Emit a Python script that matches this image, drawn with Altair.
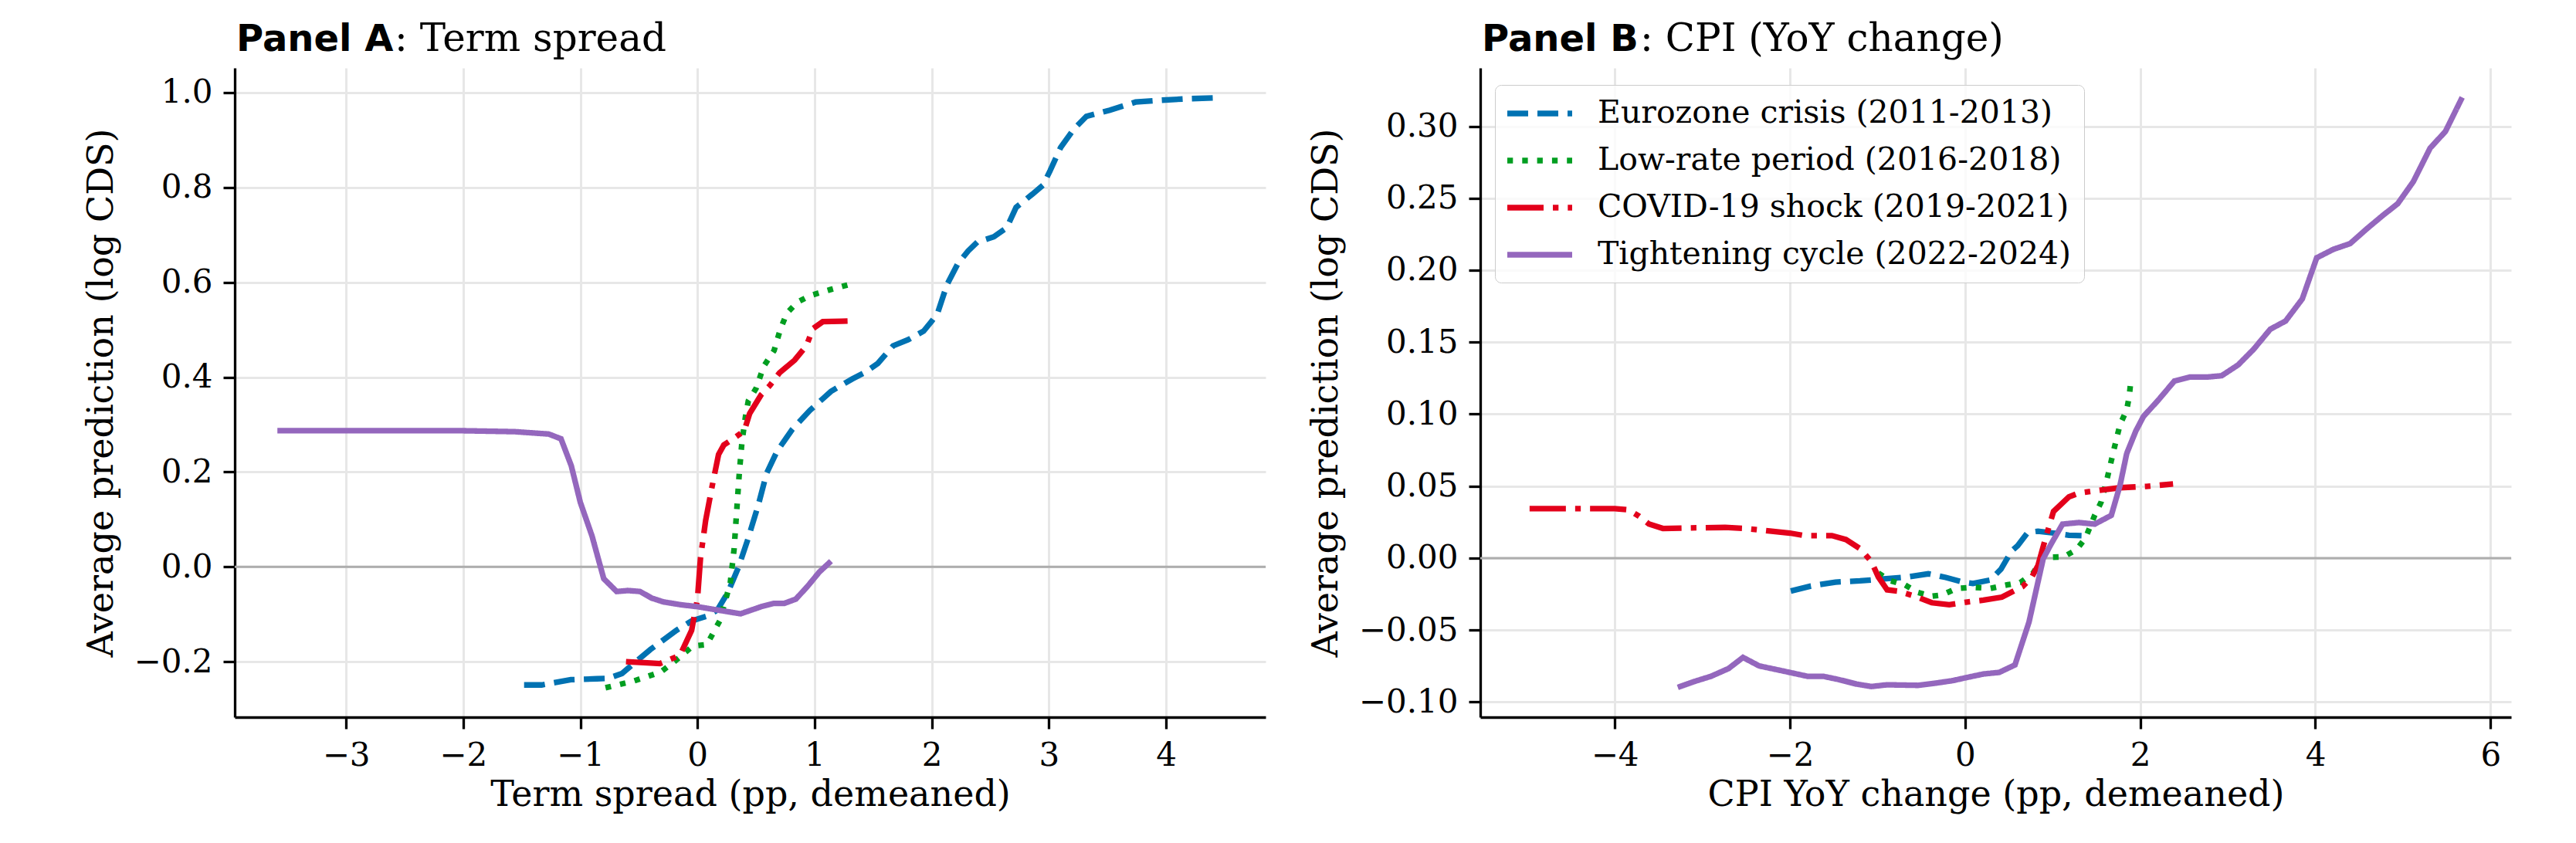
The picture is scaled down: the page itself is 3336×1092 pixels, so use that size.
import altair as alt
import pandas as pd

SERIES = ["Eurozone crisis (2011-2013)", "Low-rate period (2016-2018)",
          "COVID-19 shock (2019-2021)", "Tightening cycle (2022-2024)"]
COLORS = ["#0072B2", "#009E20", "#E3001B", "#9467BD"]
DASHES = [[27, 12], [7.3, 12], [47, 12, 7.3, 12], [1, 0]]

# ---------------- Panel A: term spread ----------------
A_blue_x = [-1.48, -1.33, -1.08, -0.86, -0.76, -0.645, -0.54, -0.40, -0.18, -0.05, 0.08, 0.17, 0.26, 0.35,
            0.43, 0.52, 0.59, 0.68, 0.81, 0.96, 1.14, 1.32, 1.43, 1.54, 1.67, 1.80, 1.93, 2.00, 2.05, 2.13,
            2.22, 2.31, 2.39, 2.53, 2.64, 2.72, 2.86, 2.95, 3.01, 3.10, 3.21, 3.32, 3.52, 3.74, 3.96, 4.18, 4.45]
A_blue_y = [-0.249, -0.249, -0.238, -0.236, -0.235, -0.225, -0.203, -0.174, -0.134, -0.114, -0.104, -0.091,
            -0.054, -0.001, 0.058, 0.131, 0.197, 0.244, 0.290, 0.330, 0.370, 0.396, 0.410, 0.429, 0.466, 0.479,
            0.497, 0.518, 0.535, 0.595, 0.638, 0.666, 0.685, 0.696, 0.715, 0.758, 0.786, 0.805, 0.835, 0.884,
            0.922, 0.950, 0.963, 0.980, 0.984, 0.987, 0.989]

A_green_x = [-0.785, -0.546, -0.315, -0.213, -0.04, 0.08, 0.19, 0.28, 0.313, 0.335, 0.357, 0.38, 0.41, 0.434,
             0.50, 0.566, 0.654, 0.709, 0.764, 0.852, 0.963, 1.14, 1.32]
A_green_y = [-0.255, -0.241, -0.222, -0.203, -0.167, -0.164, -0.114, -0.034, 0.038, 0.118, 0.197, 0.264, 0.317,
             0.350, 0.376, 0.423, 0.456, 0.502, 0.535, 0.558, 0.572, 0.585, 0.597]

A_red_x = [-0.61, -0.40, -0.32, -0.15, -0.05, 0.0, 0.026, 0.07, 0.126, 0.18, 0.225, 0.30, 0.40, 0.445, 0.544,
           0.62, 0.70, 0.83, 0.93, 0.985, 1.07, 1.23, 1.36]
A_red_y = [-0.200, -0.203, -0.204, -0.187, -0.134, -0.068, 0.019, 0.098, 0.171, 0.237, 0.257, 0.269, 0.287,
           0.323, 0.363, 0.383, 0.409, 0.436, 0.466, 0.502, 0.517, 0.518, 0.519]

A_purple_x = [-3.586, -2.0, -1.56, -1.27, -1.165, -1.077, -1.0, -0.90, -0.80, -0.69, -0.594, -0.49, -0.39, -0.29,
              -0.14, 0.0, 0.17, 0.368, 0.544, 0.654, 0.742, 0.84, 0.94, 1.04, 1.14]
A_purple_y = [0.287, 0.287, 0.285, 0.280, 0.270, 0.213, 0.136, 0.065, -0.025, -0.052, -0.050, -0.052, -0.066,
              -0.074, -0.080, -0.084, -0.091, -0.099, -0.084, -0.077, -0.077, -0.068, -0.041, -0.011, 0.012]

# ---------------- Panel B: CPI YoY change ----------------
B_blue_x = [-1.99, -1.76, -1.48, -1.20, -0.93, -0.65, -0.42, -0.22, -0.02, 0.09, 0.29, 0.41, 0.53, 0.60, 0.716,
            0.833, 1.01, 1.186, 1.33]
B_blue_y = [-0.0229, -0.0194, -0.0167, -0.0158, -0.0145, -0.0131, -0.0109, -0.0134, -0.0167, -0.0176, -0.0152,
            -0.0077, 0.0048, 0.0086, 0.0178, 0.0187, 0.0174, 0.0159, 0.0156]

B_green_x = [-0.99, -0.85, -0.69, -0.54, -0.38, -0.26, -0.10, 0.09, 0.29, 0.49, 0.63, 0.775, 0.892, 1.127, 1.274,
             1.377, 1.48, 1.553, 1.626, 1.70, 1.77, 1.846, 1.876, 1.89]
B_green_y = [-0.0104, -0.0158, -0.0185, -0.0238, -0.0265, -0.0256, -0.0211, -0.0203, -0.0210, -0.0185, -0.0170,
             -0.0106, 0.0004, 0.0009, 0.0059, 0.0141, 0.0297, 0.0388, 0.0562, 0.0755, 0.0929, 0.1029, 0.1130,
             0.1216]

B_red_x = [-4.972, -4.0, -3.84, -3.72, -3.61, -3.45, -3.13, -2.74, -2.50, -2.23, -2.0, -1.83, -1.52, -1.36, -1.20,
           -1.07, -0.99, -0.89, -0.77, -0.57, -0.38, -0.18, 0.01, 0.21, 0.42, 0.657, 0.76, 0.833, 0.92, 1.01,
           1.186, 1.30, 1.568, 1.77, 2.07, 2.375]
B_red_y = [0.0344, 0.0344, 0.0335, 0.0290, 0.0237, 0.0206, 0.0210, 0.0213, 0.0206, 0.0188, 0.0174, 0.0156, 0.0156,
           0.0129, 0.0066, -0.0023, -0.0131, -0.0220, -0.0229, -0.0265, -0.0310, -0.0324, -0.0306, -0.0292,
           -0.0271, -0.0198, -0.0134, -0.0051, 0.0141, 0.0324, 0.0425, 0.0452, 0.0474, 0.0489, 0.0498, 0.0515]

B_purple_x = [-3.28, -3.09, -2.90, -2.70, -2.535, -2.35, -2.11, -1.80, -1.62, -1.44, -1.24, -1.07, -0.89, -0.54,
              -0.34, -0.14, 0.016, 0.21, 0.39, 0.57, 0.73, 0.892, 0.98, 1.113, 1.30, 1.48, 1.67, 1.77, 1.846, 1.95,
              2.037, 2.21, 2.39, 2.566, 2.77, 2.93, 3.118, 3.294, 3.485, 3.66, 3.85, 4.015, 4.206, 4.397, 4.59,
              4.765, 4.94, 5.118, 5.31, 5.485, 5.676]
B_purple_y = [-0.0898, -0.0857, -0.0821, -0.0767, -0.0690, -0.0749, -0.0780, -0.0821, -0.0821, -0.0844, -0.0875,
              -0.0892, -0.0880, -0.0884, -0.0869, -0.0851, -0.0830, -0.0805, -0.0794, -0.0742, -0.0445, -0.0005,
              0.0095, 0.0236, 0.0247, 0.0236, 0.0297, 0.0507, 0.0727, 0.0883, 0.0984, 0.1100, 0.1230, 0.1258,
              0.1258, 0.1267, 0.1342, 0.1450, 0.1590, 0.1647, 0.1800, 0.2086, 0.2145, 0.2185, 0.2289, 0.2378,
              0.2462, 0.2615, 0.2848, 0.2964, 0.3200]

A_xticks = [-3, -2, -1, 0, 1, 2, 3, 4]
A_yticks = [-0.2, 0.0, 0.2, 0.4, 0.6, 0.8, 1.0]
B_xticks = [-4, -2, 0, 2, 4, 6]
B_yticks = [-0.10, -0.05, 0.0, 0.05, 0.10, 0.15, 0.20, 0.25, 0.30]


def long_df(pairs):
    rows = []
    for name, xs, ys in pairs:
        for i, (xv, yv) in enumerate(zip(xs, ys)):
            rows.append({"series": name, "x": xv, "y": yv, "i": i})
    return pd.DataFrame(rows)


dfA = long_df([(SERIES[0], A_blue_x, A_blue_y), (SERIES[1], A_green_x, A_green_y),
               (SERIES[2], A_red_x, A_red_y), (SERIES[3], A_purple_x, A_purple_y)])
dfB = long_df([(SERIES[0], B_blue_x, B_blue_y), (SERIES[1], B_green_x, B_green_y),
               (SERIES[2], B_red_x, B_red_y), (SERIES[3], B_purple_x, B_purple_y)])

W, H = 1335, 841


def panel(df, xdom, ydom, xticks, yticks, yfmt, xtitle, tbold, trest, rest_x, legend):
    x = alt.X("x:Q", scale=alt.Scale(domain=xdom, nice=False, zero=False),
              axis=alt.Axis(values=xticks, format="d", title=xtitle, titlePadding=8))
    y = alt.Y("y:Q", scale=alt.Scale(domain=ydom, nice=False, zero=False),
              axis=alt.Axis(values=yticks, format=yfmt, title="Average prediction (log CDS)",
                            titlePadding=18))
    if legend:
        leg = alt.Legend(orient="none", legendX=19, legendY=22, title=None,
                         symbolType="M-2.47,0H2.47", symbolSize=1156, symbolStrokeWidth=7.3,
                         symbolOffset=21, labelFont="DejaVu Serif", labelFontSize=41,
                         labelColor="black", labelOffset=54, rowPadding=20, padding=16,
                         strokeColor="#cccccc", fillColor="rgba(255,255,255,0.8)",
                         cornerRadius=8, labelLimit=2000)
    else:
        leg = None
    zero = alt.Chart(pd.DataFrame({"y": [0.0]})).mark_rule(color="#adadad", strokeWidth=3).encode(y="y:Q")
    lines = alt.Chart(df).mark_line(strokeWidth=7.3, clip=True).encode(
        x=x, y=y,
        color=alt.Color("series:N", scale=alt.Scale(domain=SERIES, range=COLORS), legend=leg),
        strokeDash=alt.StrokeDash("series:N", scale=alt.Scale(domain=SERIES, range=DASHES), legend=leg),
        order=alt.Order("i:Q"),
    )
    t1 = alt.Chart(pd.DataFrame({"t": [tbold]})).mark_text(
        font="DejaVu Sans", fontWeight="bold", fontSize=48, align="left", baseline="alphabetic",
        color="black").encode(text="t:N", x=alt.value(2), y=alt.value(-22))
    t2 = alt.Chart(pd.DataFrame({"t": [trest]})).mark_text(
        font="DejaVu Serif", fontSize=50, align="left", baseline="alphabetic",
        color="black").encode(text="t:N", x=alt.value(rest_x), y=alt.value(-22))
    return alt.layer(zero, lines, t1, t2).properties(width=W, height=H)


pA = panel(dfA, [-3.95, 4.85], [-0.317, 1.052], A_xticks, A_yticks, ".1f",
           "Term spread (pp, demeaned)", "Panel A", ": Term spread", 207, False)
pB = panel(dfB, [-5.535, 6.235], [-0.1105, 0.3405], B_xticks, B_yticks, ".2f",
           "CPI YoY change (pp, demeaned)", "Panel B", ": CPI (YoY change)", 207, True)

chart = alt.hconcat(pA, pB, spacing=53).resolve_scale(
    x="independent", y="independent", color="independent", strokeDash="independent"
).properties(
    padding={"left": 100, "top": 18, "right": 5, "bottom": 5},
    background="white",
).configure_view(stroke=None).configure_axis(
    domainColor="black", domainWidth=3.3, tickColor="black", tickWidth=3.3, tickSize=15,
    labelFont="DejaVu Serif", labelFontSize=42, labelColor="black", labelPadding=14,
    titleFont="DejaVu Serif", titleFontSize=46, titleFontWeight="normal", titleColor="black",
    gridColor="#e7e7e7", gridWidth=3,
)

chart.save("out.html", embed_options={"renderer": "svg", "actions": False})
